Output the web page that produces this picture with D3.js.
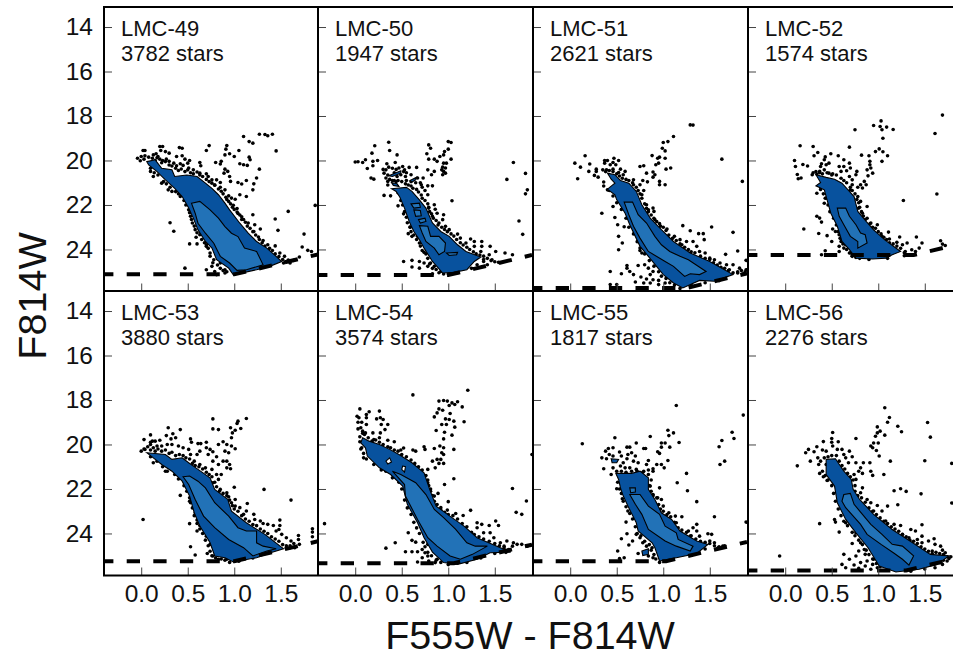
<!DOCTYPE html>
<html>
<head>
<meta charset="utf-8">
<script src="https://cdn.jsdelivr.net/npm/d3@7"></script>
<style>
  body { margin: 0; background: #fff; }
  text { font-family: "Liberation Sans", Arial, sans-serif; fill: #111; }
</style>
</head>
<body>
<div id="plot"></div>
<script>
const panelNames = ['LMC-49', 'LMC-50', 'LMC-51', 'LMC-52', 'LMC-53', 'LMC-54', 'LMC-55', 'LMC-56'];
const starCounts = [3782, 1947, 2621, 1574, 3880, 3574, 1817, 2276];
// completeness limit: magnitude of the flat part, colour where it starts to slope
const limitMag = [25.12, 25.15, 25.73, 24.25, 25.25, 25.34, 25.25, 25.66];
const limitColour = [1.0, 1.0, 1.25, 1.38, 1.0, 1.06, 1.03, 1.3];
const colourTicks = [0, 0.5, 1, 1.5];
const magTicks = [14, 16, 18, 20, 22, 24];

const stars49 = [[1.10,18.92],[1.27,18.82],[1.33,18.83],[1.36,18.89],[1.41,18.82],[1.16,19.15],[1.20,19.22],[1.45,19.57],[.73,19.33],[.70,19.55],[.92,19.33],[.91,19.49],[.90,19.75],[.95,19.70],[1.0,19.82],[1.05,19.55],[1.16,19.85],[1.17,19.97],[.63,20.09],[.64,20.24],[.80,20.09],[.86,20.04],[.85,20.16],[1.06,20.15],[1.10,20.19],[1.14,20.22],[1.27,20.39],[.90,20.39],[.93,20.49],[.89,20.57],[.95,20.72],[.96,20.94],[1.24,20.79],[1.13,20.9],[1.04,20.99],[1.08,21.06],[1.21,21.05],[1.20,21.32],[1.06,21.54],[1.13,21.62],[1.01,21.74],[1.87,22.02],[1.58,22.29],[1.44,22.63],[1.47,23.14],[1.75,23.31],[1.73,23.89],[1.79,24.04],[1.83,24.09],[1.70,24.34],[.31,22.8],[.35,23.18],[.52,23.75],[.59,23.45],[.60,23.75],[.70,23.79],[.47,24.84],
[.02,19.55],[.04,19.55],[.04,19.79],[-.04,19.9],[0,19.82],[-.01,20.01],[.03,19.94],[.13,19.75],[.16,19.7],[.2,19.37],[.23,19.37],[.21,19.55],[.26,19.6],[.3,19.67],[.41,19.42],[.44,19.45],[.38,19.82],[.44,19.79],[.47,19.94],[.52,20],[.5,20.12],[.18,19.82],[.2,19.94],[.23,20],[.27,19.94],[.3,20.04],[.35,20.12],[.38,20.24],[.42,20.15],[.45,20.22],[.51,20.34],[.56,20.42],[.63,20.57],[.7,20.6],[.72,20.72],[.76,20.87],[.81,20.87],[.85,20.99],[.79,21.11],[.85,21.2],[.9,21.32],[.94,21.59],[.97,21.69],[.94,21.84],[.99,22.01],[1.03,22.16],[1.04,22.38],[1.08,22.53],[1.1,22.65],[1.2,22.44],[1.15,22.81],[1.22,22.89],[1.28,23.08],[1.21,23.19],[1.26,23.44],[1.31,23.6],[1.36,23.79],[1.44,23.84],[1.49,24.16],[1.54,24.31],[1.6,24.61],[1.64,24.49],[1.53,24.61],
[.1,20.49],[.13,20.72],[.22,21.02],[.29,21.32],[.33,21.39],[.42,21.62],[.51,22.22],[.53,22.51],[.55,22.81],[.58,23.11],[.63,23.34],[.7,23.86],[.74,24.16],[.78,24.46],[.85,24.61],[.9,24.91],[.7,24.91],[.76,24.76],[.79,24.99],[.9,25.06],[.81,25.14],
[.08,19.85],[.12,19.9],[.17,19.88],[.15,20.0],[.22,20.1],[.26,20.05],[.3,20.2],[.33,20.25],[.37,20.35],[.4,20.45],[.43,20.38],[.47,20.5],[.5,20.42],[.53,20.55],[.56,20.6],[.6,20.52],[.63,20.65],[.66,20.72],[.7,20.85],[.73,20.95],[.76,21.02],[.79,21.1],[.83,21.28],[.86,21.38],[.88,21.5],[.91,21.65],[.92,21.75],[.96,21.95],[.98,22.1],[1.0,22.2],[1.03,22.32],[1.06,22.45],[1.08,22.65],[1.12,22.78],[1.14,22.95],[1.17,23.05],[1.2,23.2],[1.23,23.35],[1.27,23.55],[1.3,23.7],[1.33,23.85],[1.38,23.95],[1.41,24.05],[1.44,24.2],[1.48,24.32],[1.52,24.45],[1.55,24.55],[1.58,24.48],
[.1,20.35],[.14,20.55],[.18,20.65],[.24,20.95],[.27,21.05],[.31,21.2],[.37,21.4],[.4,21.5],[.46,21.8],[.48,22.0],[.52,22.35],[.54,22.65],[.57,22.95],[.6,23.25],[.65,23.55],[.68,23.7],[.72,23.95],[.74,24.3],[.77,24.6],[.82,24.7],[.85,24.85],[.88,24.95],[.92,25.0]];
const stars50 = [[.21,19.34],[.36,19.18],[.37,19.55],[.18,19.67],[.45,19.75],[.79,19.3],[.81,19.45],[.77,19.7],[1.0,19.15],[1.03,19.19],[1.0,19.49],[.96,19.6],[.95,19.75],[.91,19.82],[.85,19.94],[.79,19.94],[1.03,19.94],[.88,20.04],[0,20.07],[.03,20.06],[.08,20.09],[.11,19.97],[.19,20.04],[.24,20],[.19,20.24],[.13,20.36],[.34,20.15],[.43,20.09],[.95,20.12],[.98,20.12],[.94,20.3],[.97,20.34],[.93,20.42],[.95,20.49],[.97,20.57],[.94,20.64],[.78,20.42],[.82,20.64],[.85,20.49],[.66,20.31],[.58,20.31],[.51,20.27],[.47,20.34],[.53,20.42],[.33,20.42],[.31,20.57],[.17,20.79],[.2,20.84],[.33,20.79],[.35,20.94],[.45,20.72],[.49,20.64],[.54,20.72],[.6,20.64],[.67,20.79],[.73,20.79],[.71,21.09],[.78,21.14],[.83,21.14],[.75,21.35],[.78,21.54],[.31,21.57],[.38,21.59],[.49,21.54],[1.04,21.81],[.85,21.99],[.86,22.19],[.79,22.14],[.83,22.51],[.88,22.37],[.95,22.44],[.94,22.66],[.9,22.81],[.97,22.96],[1.01,23.11],[1.1,23.31],[1.13,23.49],[1.24,23.53],[1.28,23.64],[1.36,23.64],[1.19,23.71],[1.28,23.86],[1.36,23.86],[1.45,23.86],[1.35,24.09],[1.44,24.24],[1.51,24.09],[1.61,24.16],[1.69,24.24],[1.47,24.46],[1.54,24.58],[1.38,24.54],[1.31,24.69],[1.42,24.69],[.46,22.04],[.52,22.4],[.59,22.99],[.57,23.29],[.61,23.41],[.67,23.41],[.69,23.71],[.74,24.13],[.52,24.54],[.61,24.49],[.69,24.54],[.61,24.79],[.69,24.84],[.74,24.61],[.78,24.76],[.83,25.09],[.81,24.61],[.85,24.76],[.92,24.99],[1.7,20.09],[1.83,20.58],[1.63,20.85],[1.85,21.32],[1.83,21.5],[1.76,22.72],[1.8,23.32],
[.4,20.9],[.44,20.95],[.5,20.95],[.54,21.05],[.57,21.1],[.6,21.15],[.62,21.25],[.66,21.3],[.68,21.42],[.71,21.55],[.72,21.7],[.75,21.8],[.78,21.95],[.79,22.1],[.8,22.3],[.82,22.4],[.84,22.6],[.87,22.7],[.89,22.9],[.93,23.0],[.96,23.1],[.99,23.2],[1.03,23.3],[1.06,23.4],[1.09,23.55],[1.13,23.7],[1.16,23.8],[1.2,23.9],[1.23,24.0],[1.27,24.1],[1.3,24.2],[1.34,24.25],[1.38,24.3],[1.42,24.4],[1.46,24.5],[1.5,24.55],[1.38,24.45],
[.3,20.4],[.36,20.3],[.4,20.35],[.42,20.55],[.44,20.4],[.52,20.5],[.55,20.55],[.35,20.65],[.37,20.85],[.42,20.9],[.46,20.9],[.55,20.9],[.6,20.95],[.65,21.0],[.7,21.0],[.72,21.2],[.35,21.1],
[.46,21.45],[.49,21.8],[.51,22.0],[.53,22.3],[.55,22.55],[.56,22.8],[.59,23.0],[.6,23.2],[.63,23.35],[.66,23.55],[.7,23.85],[.72,24.05],[.76,24.2],[.78,24.4],[.8,24.65],[.83,24.85],[.87,24.9],[.9,25.05],[.95,25.1],[1.0,25.1],[1.1,25.05],[1.25,24.85]];
const stars51 = [[1.29,18.4],[1.32,18.41],[1.11,18.92],[1.05,19.15],[1.0,19.19],[.99,19.45],[1.02,19.57],[.88,19.78],[.96,19.85],[.94,19.9],[1.02,19.9],[.95,20.12],[.92,20.19],[1.08,20.34],[1.03,20.39],[.79,20.24],[.75,20.27],[.82,20.57],[.89,20.52],[.91,20.64],[.89,20.75],[.96,20.94],[.96,21.09],[1.02,21.09],[.83,20.96],[.78,20.9],[.68,20.87],[.16,19.79],[.05,20.12],[.11,20.3],[.21,20.16],[.2,20.49],[.08,20.82],[.28,20.39],[.28,20.49],[.26,20.67],[.3,20.75],[.37,20],[.4,20],[.37,20.12],[.47,19.9],[.52,20],[.46,20.09],[.43,20.19],[.49,20.19],[.35,20.42],[.39,20.42],[.46,20.39],[.54,20.39],[.52,20.54],[.59,20.49],[.57,20.64],[.36,20.97],[.4,21.32],[.62,21.09],[.68,21.09],[.75,21.09],[.79,21.35],[.77,21.54],[.46,22.07],[.34,22.37],[.48,22.56],[.51,22.89],[.58,22.98],[.52,23.41],[.56,23.71],[.52,24.01],[.82,21.99],[.89,22.14],[.84,22.22],[.82,22.37],[.9,22.29],[.91,22.66],[.96,22.84],[1.04,23.08],[1.21,22.93],[1.29,23.16],[1.52,22.99],[1.38,23.29],[1.43,23.29],[1.44,23.56],[1.12,23.41],[1.18,23.56],[1.25,23.64],[1.32,23.64],[1.2,23.79],[1.36,23.86],[1.39,24.09],[1.45,24.16],[1.5,24.39],[1.55,24.46],[1.67,24.22],[1.75,23.23],[1.8,24.07],[1.63,19.94],[1.85,20.94],[1.61,24.61],[1.68,24.69],[1.75,24.69],[1.82,24.84],[1.89,24.49],[1.89,24.91],[1.8,25.06],[1.86,25.09],[1.71,24.91],[.75,23.94],[.77,24.16],[.43,24.99],[.61,24.72],[.61,24.84],[.55,25.09],[.64,24.99],[.68,25.13],[.73,24.72],[.8,24.69],[.84,24.84],[.76,25.24],[.82,25.33],[.86,25.51],[.7,25.46],[.79,25.51],[.89,25.36],[.95,25.39],[.95,25.58],[1.02,25.51],[.89,24.99],[.86,25.13],[.43,25.58],[.5,25.58],
[.38,20.5],[.42,20.45],[.46,20.5],[.5,20.6],[.53,20.7],[.56,20.8],[.6,20.85],[.63,20.9],[.67,21.0],[.71,21.2],[.73,21.35],[.75,21.5],[.77,21.7],[.8,21.95],[.82,22.15],[.84,22.3],[.87,22.45],[.9,22.6],[.93,22.75],[.97,22.95],[1.0,23.0],[1.03,23.15],[1.06,23.35],[1.1,23.5],[1.14,23.6],[1.18,23.75],[1.23,23.9],[1.27,24.0],[1.3,24.1],[1.34,24.15],[1.4,24.3],[1.45,24.4],[1.5,24.45],[1.54,24.6],[1.58,24.7],[1.62,24.8],[1.66,24.85],[1.7,24.95],[1.75,25.05],[1.8,25.0],[1.84,24.95],[1.88,25.0],
[.36,21.15],[.42,21.35],[.46,21.6],[.5,21.9],[.55,22.2],[.6,22.6],[.63,23.0],[.68,23.3],[.72,23.65],[.75,24.05],[.8,24.2],[.85,24.5],[.9,24.75],[.95,25.0],[.98,25.2],[1.03,25.3],[1.07,25.5],[1.12,25.6],[1.18,25.75],[1.3,25.6],[1.45,25.5],[1.6,25.4],[1.66,25.25]];
const stars52 = [[1.69,17.96],[1.03,18.22],[.95,18.43],[1.02,18.47],[1.09,18.5],[1.04,18.62],[1.16,18.61],[.75,18.62],[1.61,18.79],[1.05,19.0],[.16,19.34],[.3,19.37],[.69,19.4],[.97,19.6],[1.01,19.48],[1.05,19.61],[.35,19.64],[.31,19.79],[1.1,19.79],[.82,19.76],[.9,19.79],[1.04,20.04],[.43,19.84],[.49,19.7],[.57,19.79],[.1,20],[.11,20.27],[.19,20.18],[.24,20.25],[.13,20.63],[.14,20.82],[.17,20.79],[.42,19.97],[.39,20.15],[.44,20.19],[.38,20.27],[.47,20.12],[.63,19.97],[.58,20.27],[.63,20.27],[.69,20.12],[.7,20.34],[.66,20.46],[.6,20.49],[.37,20.49],[.42,20.42],[.34,20.61],[.29,20.64],[.47,20.57],[.51,20.6],[.77,20.49],[.76,20.64],[.69,20.72],[.72,20.87],[.91,20.04],[.91,20.19],[.92,20.34],[.94,20.57],[.88,20.42],[.89,20.69],[.85,20.94],[.81,21.09],[.87,21.09],[.78,21.2],[.83,21.24],[.72,21.09],[.7,21.32],[.34,21.47],[.44,21.69],[.42,21.92],[.78,21.62],[.81,21.84],[.79,22.14],[.88,22.07],[.83,22.37],[.86,22.66],[.92,22.81],[.99,22.89],[.95,23.19],[1.04,23.41],[1.11,23.22],[1.12,23.53],[1.23,23.44],[1.2,23.68],[1.26,23.79],[1.41,23.44],[1.31,23.71],[1.27,21.8],[1.63,21.51],[1.47,23.71],[1.44,23.94],[1.36,24.01],[1.29,24.09],[1.4,24.09],[1.33,24.24],[1.28,24.28],[1.67,23.61],[1.69,23.76],[1.72,23.82],[.34,22.51],[.37,22.59],[.39,22.77],[.2,23.08],[.36,23.28],[.45,23.38],[.51,23.08],[.54,23.19],[.5,23.64],[.58,23.34],[.6,23.64],[.58,23.86],[.63,23.94],[.43,24.06],[.39,24.24],[.44,24.24],[.69,24.16],[.58,24.09],[.65,23.79],[.72,24.31],[.76,24.36],[.83,24.31],
[.3,20.55],[.33,20.5],[.37,20.55],[.4,20.6],[.45,20.55],[.5,20.65],[.55,20.65],[.6,20.8],[.63,20.9],[.66,21.0],[.7,21.2],[.72,21.35],[.75,21.5],[.77,21.75],[.79,21.9],[.8,22.1],[.82,22.3],[.84,22.5],[.88,22.6],[.91,22.85],[.94,23.0],[.97,23.05],[1.0,23.2],[1.03,23.3],[1.06,23.45],[1.09,23.55],[1.12,23.7],[1.16,23.75],[1.2,23.85],[1.24,23.95],[1.28,24.15],
[.38,21.3],[.41,21.5],[.43,21.7],[.46,22.0],[.48,22.3],[.52,22.6],[.55,22.9],[.57,23.2],[.59,23.5],[.62,23.75],[.66,24.0],[.7,24.15],[.73,24.25],[.77,24.3],[.8,24.4],[.9,24.45],[1.1,24.4]];
const stars53 = [[.77,18.85],[1.13,18.83],[1.04,18.95],[1.03,19.06],[.77,19.3],[.83,19.33],[.96,19.25],[1.07,19.28],[1.01,19.36],[.98,19.48],[.29,19.25],[.1,19.57],[.27,19.6],[.34,19.52],[.42,19.33],[.37,19.7],[.32,19.75],[.53,19.75],[.54,19.9],[.03,19.78],[.12,19.85],[.1,19.9],[.15,19.85],[.2,19.81],[.97,19.7],[.83,20],[.88,19.88],[.92,20],[.97,20.07],[1.01,20.19],[.9,20.3],[.94,20.37],[.7,19.9],[.61,19.96],[.64,19.96],[.7,20.15],[.74,20.22],[.77,20.33],[.81,20.55],[.77,20.75],[.72,20.45],[.63,20.3],[.6,20.45],[0,20.3],[.1,20],[.04,20.22],[.13,20.15],[.17,20.07],[.22,20.07],[.28,20],[.33,20],[.4,20.07],[.45,20.15],[.51,20.22],[.53,20.45],[.57,20.75],[.63,20.9],[.69,21.05],[.76,21.12],[.83,20.9],[.88,20.75],[.92,20.75],[.95,20.9],[.92,21.05],[.96,21.09],[.81,21.35],[.86,21.35],[.83,21.57],[.77,21.72],[1,21.92],[1.32,22.02],[1.61,22.5],[.85,22.02],[.92,22.17],[.94,22.35],[1.01,22.47],[.97,22.62],[1.01,22.77],[1.06,22.84],[1.14,22.65],[1.13,22.99],[1.1,23.14],[1.21,23.14],[1.22,23.37],[1.28,23.44],[1.31,23.55],[1.36,23.59],[1.42,23.64],[1.49,23.4],[1.49,23.64],[1.48,23.82],[1.45,23.89],[1.51,24.04],[1.56,24.19],[1.61,24.34],[1.69,24.09],[1.69,24.27],[1.7,24.49],[1.65,24.64],[1.6,24.64],[1.84,23.79],[1.84,23.94],[1.84,24.15],[.13,20.82],[.26,21.2],[.42,22.29],[.52,22.4],[.53,22.62],[.58,23.07],[.61,23.14],[.02,23.37],[.52,23.56],[.6,23.4],[.63,23.64],[.6,23.89],[.67,23.74],[.7,24.12],[.76,24.19],[.79,24.34],[.53,24.6],[.58,24.97],[.74,24.49],[.71,24.9],[.79,24.64],[.77,25.01],[.83,25.16],[.92,25.16],
[.03,20.2],[.07,20.1],[.1,20.25],[.15,20.3],[.18,20.2],[.22,20.3],[.26,20.25],[.3,20.4],[.33,20.35],[.37,20.5],[.41,20.45],[.45,20.5],[.48,20.6],[.52,20.65],[.55,20.85],[.58,20.95],[.62,21.0],[.66,21.1],[.7,21.25],[.73,21.35],[.76,21.45],[.79,21.7],[.81,21.9],[.84,22.1],[.88,22.2],[.92,22.3],[.95,22.5],[.98,22.75],[1.0,22.9],[1.04,23.0],[1.08,23.2],[1.12,23.35],[1.16,23.45],[1.2,23.6],[1.24,23.65],[1.28,23.8],[1.32,23.9],[1.36,24.0],[1.4,24.15],[1.44,24.25],[1.48,24.35],[1.52,24.5],[1.56,24.55],[1.6,24.55],[1.64,24.45],[1.56,24.65],
[.1,20.55],[.17,20.75],[.23,21.0],[.28,21.2],[.36,21.35],[.4,21.55],[.46,21.85],[.49,22.1],[.52,22.55],[.55,22.85],[.57,23.2],[.6,23.55],[.63,23.8],[.66,24.0],[.69,24.3],[.72,24.55],[.74,24.8],[.76,25.0],[.8,25.1],[.86,25.15],[.9,25.2],[.95,25.3],[1.05,25.25],[1.2,25.1]];
const stars54 = [[.62,17.77],[1.21,17.56],[.95,18.02],[.9,18.05],[.99,18.05],[1.04,18.13],[1.1,18.08],[1.01,18.25],[1.15,18.31],[1.07,18.2],[.9,18.4],[.94,18.46],[.88,18.58],[.85,18.76],[1.02,18.61],[.97,18.85],[1.01,18.88],[1.06,18.95],[1.17,18.98],[.93,19.1],[.98,19.1],[1.07,19.22],[.87,19.37],[.96,19.45],[1.04,19.58],[.95,19.75],[.91,20.07],[.95,20.15],[1.06,20.22],[.85,20.18],[.93,20.37],[.95,20.45],[.88,20.67],[.83,20.75],[.92,20.67],[.9,20.85],[.95,20.85],[.86,21.05],[.78,21.12],[.75,20.22],[.74,20.1],[.65,20.3],[.62,20.25],[.52,20.16],[.49,20.25],[.42,19.88],[.35,19.81],[.05,18.4],[.02,18.73],[.04,18.8],[.15,18.53],[.12,18.65],[.03,19],[.07,19],[.12,18.8],[.26,18.5],[.27,18.8],[.23,18.85],[.3,18.88],[.12,19.1],[.28,19.1],[.35,19.1],[.32,19.33],[.03,19.3],[.06,19.25],[.08,19.4],[.11,19.48],[.27,19.48],[.19,19.48],[.26,19.7],[.05,19.88],[.07,20.15],[.09,20.6],[.2,19.78],[1.06,21.54],[.96,21.8],[.89,22.2],[.85,22.32],[.81,22.1],[.78,21.72],[1,22.57],[.92,22.84],[.99,22.95],[1.08,23.1],[1.16,23.19],[1.24,22.96],[1.31,23.52],[1.36,23.59],[1.31,23.74],[1.44,23.64],[1.51,23.44],[1.54,23.64],[1.38,23.97],[1.45,23.97],[1.49,24.19],[1.56,24.42],[1.63,24.34],[1.7,24.42],[1.74,24.49],[1.79,24.49],[1.85,24.57],[1.88,24.54],[1.69,24.57],[1.65,24.72],[1.6,24.57],[1.69,21.98],[1.84,22.54],[1.73,23.05],[1.79,23.14],[1.9,20.45],[-.33,23.56],[.57,23.97],[.43,24.42],[.33,24.66],[.61,24.31],[.65,24.39],[.54,24.82],[.61,24.82],[.67,24.82],[.72,24.72],[.75,24.87],[.67,25.28],[.72,25.09],[.78,25.01],[.79,25.24],[.86,25.31],[.88,25.16],[.78,24.49],
[.05,19.65],[.08,19.5],[.1,19.55],[.14,19.7],[.18,19.85],[.22,19.8],[.26,19.9],[.3,20.0],[.35,20.1],[.38,20.15],[.42,20.25],[.46,20.3],[.5,20.45],[.55,20.55],[.6,20.7],[.64,20.85],[.68,21.0],[.72,21.15],[.76,21.4],[.78,21.6],[.79,21.85],[.81,22.0],[.83,22.3],[.85,22.55],[.88,22.7],[.92,22.95],[.96,23.05],[1.0,23.15],[1.05,23.2],[1.1,23.35],[1.15,23.55],[1.2,23.7],[1.25,23.95],[1.28,24.05],[1.33,24.15],[1.38,24.25],[1.44,24.35],[1.5,24.45],[1.55,24.55],[1.6,24.65],[1.66,24.75],
[.06,20.2],[.09,20.4],[.12,20.65],[.2,20.9],[.28,21.15],[.33,21.2],[.4,21.5],[.47,21.7],[.5,22.0],[.53,22.5],[.56,22.85],[.6,23.15],[.63,23.5],[.66,23.75],[.69,24.0],[.73,24.4],[.75,24.6],[.78,24.85],[.82,25.0],[.87,25.2],[.92,25.3],[1.0,25.4],[1.2,25.3],[1.35,25.1],[1.5,24.9],[1.62,24.85]];
const stars55 = [[1.14,18.25],[1.86,18.68],[1.05,19.36],[1.11,19.48],[1.06,19.6],[.48,19.7],[.86,19.64],[1.74,19.45],[1.76,19.73],[1.63,19.82],[.13,19.97],[1.17,19.91],[1.6,20.1],[1.66,20.75],[1.61,20.9],[.98,19.93],[1.02,19.93],[.98,20.12],[1.07,20.12],[.94,20.33],[.96,20.4],[.79,20.18],[.81,20.18],[.71,19.93],[.61,20.12],[.64,20.12],[.46,20.15],[.41,20.18],[.38,20.3],[.53,20.34],[.42,20.45],[.34,20.6],[.39,20.64],[.46,20.52],[.55,20.52],[.62,20.45],[.66,20.37],[.7,20.52],[.61,20.64],[.68,20.75],[.73,20.82],[.84,20.72],[.82,20.9],[.89,21.09],[.93,20.9],[1.05,20.72],[.98,20.9],[1.01,21.05],[.36,21.09],[.44,21.35],[.46,21.05],[.54,20.97],[.57,20.82],[.59,21.05],[.64,21.05],[.71,21.12],[.79,21.2],[.84,21.15],[.89,21.2],[1.25,21.3],[1.15,21.72],[1.26,22.08],[1.36,22.57],[.96,21.95],[.86,21.87],[.89,22.25],[.94,22.4],[.98,22.47],[.91,22.62],[1,22.77],[1.06,23.07],[1.13,23.22],[1.2,23.25],[1.55,23.25],[1.05,23.44],[1.14,23.52],[1.36,23.59],[1.32,23.74],[1.27,23.89],[1.36,23.89],[1.39,24.12],[1.29,24.12],[1.48,24.01],[1.52,24.04],[1.5,24.34],[1.55,24.42],[1.64,24.57],[1.59,24.64],[1.89,23.49],[.5,21.99],[.56,22.44],[.62,22.99],[.6,23.49],[.61,24.01],[.55,24.24],[.63,24.52],[.67,24.34],[.71,24.04],[.75,24.19],[.78,24.42],[.51,24.79],[.53,25.13],[.58,25.09],[.73,24.9],[.79,24.87],[.82,24.57],[.84,25.01],[.88,24.64],[.89,25.09],
[.5,21.2],[.55,21.2],[.6,21.25],[.66,21.2],[.72,21.2],[.78,21.25],[.84,21.35],[.87,21.6],[.85,21.85],[.87,22.1],[.89,22.3],[.93,22.4],[.95,22.7],[.97,22.9],[1.0,23.0],[1.04,23.15],[1.08,23.25],[1.12,23.5],[1.16,23.75],[1.2,23.85],[1.25,23.95],[1.3,24.1],[1.35,24.25],[1.4,24.35],[1.45,24.4],[1.5,24.45],[1.55,24.55],[1.6,24.6],[1.66,24.55],
[.51,21.7],[.53,22.0],[.55,22.2],[.57,22.55],[.6,22.8],[.64,23.1],[.67,23.35],[.7,23.7],[.72,24.0],[.76,24.1],[.8,24.35],[.85,24.5],[.87,24.75],[.9,24.95],[.92,25.15],[.96,25.3],[1.1,25.15],[1.3,24.95],[1.45,24.7]];
const stars56 = [[1.07,18.35],[1.12,18.79],[1.1,19],[1.53,19.01],[1.21,19.18],[1.25,19.43],[.99,19.21],[1.02,19.4],[.99,19.48],[.97,19.63],[1.07,19.58],[1.56,19.67],[.76,19.73],[.51,19.46],[.5,19.73],[.5,19.9],[.57,19.88],[.41,19.87],[.34,20.1],[.25,20.22],[.22,20.37],[.31,20.33],[.4,20.25],[.44,20.3],[.51,20.07],[.56,20.22],[.61,20.22],[.69,20.3],[.63,20.45],[.72,20.55],[.92,20.07],[.95,19.93],[1,19.93],[.94,20.15],[.98,20.27],[1.01,20.52],[1.13,20.75],[1.5,20.73],[1.79,20.85],[.13,20.96],[.27,20.75],[.35,20.6],[.38,20.75],[.36,20.9],[.44,20.9],[.37,21.3],[.41,21.45],[.45,21.62],[.65,20.6],[.68,20.82],[.76,20.82],[.84,20.82],[.91,20.82],[.81,21.05],[.79,21.2],[.92,21.2],[.94,21.39],[.83,21.3],[.74,21.35],[.76,21.57],[1.06,21.35],[.83,21.95],[.81,22.17],[.88,22.47],[.92,22.62],[.99,22.74],[1.1,22.77],[1.04,22.99],[.95,22.99],[1.17,22.08],[1.24,21.99],[1.3,22.11],[1.46,22.22],[1.21,22.71],[1.79,22.63],[1.08,23.44],[1.17,23.59],[1.24,23.64],[1.15,23.89],[1.47,23.61],[1.35,23.82],[1.4,23.89],[1.26,24.04],[1.33,24.19],[1.47,24.12],[1.42,24.27],[1.6,24.24],[1.54,24.34],[1.47,24.42],[1.67,24.57],[1.61,24.49],[1.58,24.79],[1.69,24.75],[1.72,24.87],[1.76,25.13],[1.74,25.24],[1.69,25.39],[1.61,25.54],[.37,23.56],[.53,23.37],[.54,23.49],[.58,23.94],[.65,23.52],[.72,24.45],[.76,23.97],[.81,24.42],[.79,24.79],[.85,24.72],[.86,24.94],[.63,24.94],[.69,25.16],[.76,25.01],[-.06,25.01],[.61,25.39],[.65,25.54],[.74,25.42],[.81,25.31],[.88,25.24],[.95,25.16],[.94,25.39],[.86,25.46],[.79,25.57],[.92,25.61],[.99,25.54],[1.2,25.61],[1.29,25.64],
[.42,20.6],[.46,20.55],[.5,20.5],[.55,20.5],[.58,20.75],[.61,20.95],[.64,21.1],[.67,21.3],[.7,21.45],[.73,21.6],[.75,21.85],[.75,22.1],[.78,22.3],[.82,22.4],[.86,22.6],[.9,22.85],[.94,23.0],[.98,23.15],[1.02,23.3],[1.06,23.45],[1.1,23.55],[1.14,23.7],[1.18,23.8],[1.22,23.9],[1.26,24.05],[1.3,24.15],[1.34,24.3],[1.38,24.35],[1.42,24.45],[1.46,24.6],[1.5,24.7],[1.54,24.8],[1.58,24.9],[1.62,24.85],[1.66,24.9],[1.7,24.95],[1.74,25.05],[1.78,25.05],[1.7,25.2],[1.66,25.3],[1.6,25.4],
[.4,21.2],[.43,21.4],[.46,21.6],[.5,21.85],[.52,22.2],[.54,22.55],[.57,22.9],[.6,23.2],[.63,23.45],[.67,23.65],[.72,23.95],[.75,24.1],[.79,24.3],[.83,24.5],[.87,24.75],[.9,24.95],[.94,25.15],[.98,25.35],[1.02,25.5],[1.1,25.65],[1.35,25.7],[1.5,25.6]];

const outer49 = [[[.06,20.05],[.15,19.97],[.22,20.35],[.33,20.42],[.36,20.72],[.49,20.65],[.60,20.72],[.67,20.95],[.76,21.25],[.83,21.54],[.90,21.92],[.95,22.22],[1.06,22.82],[1.15,23.27],[1.24,23.64],[1.35,23.94],[1.45,24.31],[1.51,24.54],[1.38,24.76],[1.24,24.91],[.99,25.14],[.94,24.84],[.81,24.46],[.76,23.94],[.69,23.64],[.61,23.12],[.56,22.59],[.51,22.14],[.44,21.62],[.36,21.25],[.26,20.87],[.17,20.50],[.08,20.2]]];
const inner49 = [[[.54,21.92],[.63,21.84],[.74,22.22],[.83,22.59],[.90,22.97],[.97,23.27],[1.04,23.42],[1.11,23.94],[1.24,24.09],[1.31,24.69],[1.13,24.91],[1.03,24.94],[.95,24.61],[.85,24.31],[.78,23.72],[.69,23.27],[.61,22.82],[.58,22.37]]];
const outer50 = [[[.39,21.27],[.55,21.21],[.61,21.39],[.69,21.77],[.76,22.14],[.83,22.81],[.92,23.19],[1.01,23.41],[1.10,23.79],[1.19,24.09],[1.35,24.34],[1.28,24.54],[1.20,24.91],[1.06,25.03],[.94,25.06],[.83,24.54],[.74,23.94],[.69,23.56],[.63,23.19],[.58,22.74],[.53,22.14],[.48,21.65],[.44,21.39]],
  [[.36,20.69],[.49,20.46],[.49,20.57],[.40,20.72]],[[.39,20.99],[.45,21.05],[.47,21.17],[.41,21.12]],[[.59,20.9],[.66,20.75],[.65,20.87],[.61,20.97]]];
const inner50 = [[[.60,21.95],[.69,21.92],[.70,22.1],[.63,22.14]],[[.63,22.22],[.70,22.25],[.71,22.49],[.65,22.51]],[[.68,22.66],[.75,22.59],[.76,22.74],[.70,22.81]],[[.69,22.93],[.78,22.96],[.81,23.41],[.90,23.41],[.97,23.71],[.96,24.09],[.90,24.24],[.85,23.94],[.76,23.64],[.72,23.26]],[[.98,24.16],[1.1,24.13],[1.09,24.24],[1.01,24.27]]];
const outer51 = [[[.40,20.57],[.48,20.64],[.54,20.9],[.63,21.02],[.71,21.39],[.77,21.99],[.86,22.59],[.98,23.11],[1.11,23.64],[1.29,24.16],[1.5,24.54],[1.75,25.13],[1.55,25.43],[1.39,25.39],[1.21,25.73],[1.11,25.51],[1.0,25.13],[.84,24.31],[.75,23.86],[.64,22.89],[.59,22.37],[.5,21.77],[.48,21.54],[.4,21.29],[.48,21.02],[.44,20.84]]];
const inner51 = [[[.58,21.87],[.67,21.87],[.73,22.44],[.82,22.81],[.91,23.41],[.98,23.79],[1.07,24.09],[1.18,24.31],[1.27,24.46],[1.46,24.99],[1.39,25.13],[1.29,25.09],[1.23,25.21],[1.11,24.76],[1.02,24.54],[.84,24.09],[.75,23.49],[.68,22.96],[.63,22.44]]];
const outer52 = [[[.33,20.64],[.44,20.76],[.53,20.84],[.61,21.02],[.69,21.39],[.74,21.62],[.78,22.29],[.87,22.74],[.95,23.12],[1.07,23.57],[1.24,24.09],[1.15,24.24],[1.08,24.39],[.94,24.43],[.76,24.39],[.69,24.01],[.61,23.64],[.56,22.96],[.49,22.37],[.45,21.77],[.42,21.32],[.33,21.14],[.38,20.99]]];
const inner52 = [[[.56,22.14],[.65,22.14],[.69,22.51],[.76,22.89],[.81,23.26],[.86,23.34],[.88,23.71],[.78,23.94],[.78,23.64],[.7,23.41],[.63,22.89],[.58,22.51]]];
const outer53 = [[[.06,20.37],[.26,20.45],[.33,20.67],[.44,20.6],[.51,20.82],[.61,21.12],[.74,21.5],[.79,22.02],[.93,22.47],[.97,23.0],[1.13,23.52],[1.33,24.04],[1.53,24.69],[1.39,24.87],[1.24,25.09],[.99,25.28],[.9,25.09],[.79,25.01],[.74,24.42],[.63,23.67],[.57,23.07],[.52,22.32],[.44,21.65],[.33,21.2],[.22,20.9],[.13,20.6]]];
const inner53 = [[[.45,21.45],[.52,21.42],[.61,21.65],[.69,21.95],[.79,22.62],[.94,23.22],[1.04,23.74],[1.13,23.89],[1.24,23.89],[1.24,24.42],[1.31,24.57],[1.45,24.69],[1.35,24.79],[1.2,25.01],[1.1,24.64],[.94,24.27],[.79,23.74],[.67,23.22],[.58,22.47],[.51,21.8]]];
const outer54 = [[[.08,19.7],[.15,19.85],[.26,20.0],[.37,20.22],[.47,20.45],[.61,20.82],[.74,21.27],[.8,22.02],[.87,22.77],[1.04,23.29],[1.17,23.67],[1.31,24.19],[1.67,24.84],[1.45,24.87],[1.31,25.16],[1.1,25.39],[.95,25.31],[.83,24.84],[.74,24.19],[.67,23.52],[.56,22.69],[.51,21.87],[.38,21.35],[.26,21.05],[.13,20.52],[.11,20.15],[.06,19.93]]];
const inner54 = [[[.4,21.2],[.49,21.35],[.65,21.72],[.76,22.25],[.85,22.92],[.95,23.29],[1.08,23.82],[1.2,24.42],[1.29,24.57],[1.42,24.57],[1.26,24.94],[1.13,25.16],[1.02,25.01],[.88,24.57],[.78,24.19],[.67,23.37],[.54,22.32],[.53,21.8]]];
const holes54 = [[[.33,20.75],[.37,20.6],[.39,20.79],[.35,20.88]],[[.51,20.97],[.54,21.0],[.53,21.24],[.5,21.12]]];
const outer55 = [[[.49,21.3],[.66,21.3],[.75,21.2],[.84,21.5],[.84,22.02],[.91,22.47],[.98,23.07],[1.09,23.37],[1.18,23.89],[1.36,24.34],[1.48,24.49],[1.36,24.9],[1.14,25.09],[.96,25.24],[.91,24.64],[.88,24.42],[.73,23.89],[.71,23.52],[.62,22.77],[.57,22.32],[.54,21.95],[.52,21.57]],
  [[.44,20.64],[.52,20.67],[.5,20.82],[.45,20.82]],[[.77,24.79],[.84,24.69],[.84,24.94],[.78,24.99]]];
const inner55 = [[[.64,22.25],[.75,22.25],[.84,22.77],[.96,23.14],[1.02,23.67],[1.14,23.97],[1.16,24.27],[1.32,24.57],[1.29,24.79],[1.14,24.57],[1.02,24.34],[.84,23.82],[.77,23.14],[.7,22.69]],[[.64,21.95],[.7,21.95],[.7,22.14],[.65,22.17]]];
const outer56 = [[[.44,20.67],[.54,20.64],[.63,21.2],[.71,21.57],[.73,22.02],[.8,22.47],[.95,23.14],[1.15,23.82],[1.37,24.42],[1.56,24.94],[1.76,25.01],[1.63,25.39],[1.44,25.61],[1.19,25.73],[1.01,25.46],[.89,24.64],[.76,23.97],[.65,23.37],[.56,22.62],[.53,21.87],[.44,21.35]]];
const inner56 = [[[.63,22.25],[.7,22.2],[.74,22.69],[.83,23.14],[.92,23.59],[1.04,24.04],[1.15,24.49],[1.26,24.57],[1.38,25.01],[1.33,25.42],[1.26,25.16],[1.17,24.89],[1.03,24.49],[.88,24.04],[.81,23.59],[.65,22.84],[.61,22.55]]];

const allStars = [stars49, stars50, stars51, stars52, stars53, stars54, stars55, stars56];
const allOuter = [outer49, outer50, outer51, outer52, outer53, outer54, outer55, outer56];
const allInner = [inner49, inner50, inner51, inner52, inner53, inner54, inner55, inner56];
const allHoles = [[], [], [], [], [], holes54, [], []];

const width = 953, height = 657;
const panelLeft = [104, 318, 533, 748];
const panelTop = [7, 291];
const panelW = 214, panelH = 284.5;

const svg = d3.select('#plot').append('svg')
    .attr('width', width)
    .attr('height', height)
    .style('display', 'block');

const contourLine = (x, y) => d3.line().x(d => x(d[0])).y(d => y(d[1]));

panelNames.forEach((name, i) => {
    let col = i % 4, row = Math.floor(i / 4);
    let left = panelLeft[col], top = panelTop[row];
    let x = d3.scaleLinear().domain([-0.4, 1.9]).range([left, left + panelW]);
    let y = d3.scaleLinear().domain([13.1, 25.89]).range([top, top + panelH]);
    let line = contourLine(x, y);

    svg.append('clipPath').attr('id', 'clip' + i)
        .append('rect')
        .attr('x', left).attr('y', top)
        .attr('width', panelW).attr('height', panelH);

    let g = svg.append('g').attr('clip-path', 'url(#clip' + i + ')');

    g.selectAll('circle.star').data(allStars[i]).join('circle')
        .attr('class', 'star')
        .attr('cx', d => x(d[0]))
        .attr('cy', d => y(d[1]))
        .attr('r', 1.8)
        .attr('fill', '#000');

    g.selectAll('path.outer').data(allOuter[i]).join('path')
        .attr('class', 'outer')
        .attr('d', d => line(d) + 'Z')
        .attr('fill', '#08529e')
        .attr('stroke', '#000')
        .attr('stroke-width', 1.1);

    g.selectAll('path.hole').data(allHoles[i]).join('path')
        .attr('class', 'hole')
        .attr('d', d => line(d) + 'Z')
        .attr('fill', '#fff')
        .attr('stroke', '#000')
        .attr('stroke-width', 1.1);

    g.selectAll('path.inner').data(allInner[i]).join('path')
        .attr('class', 'inner')
        .attr('d', d => line(d) + 'Z')
        .attr('fill', '#2272b7')
        .attr('stroke', '#000')
        .attr('stroke-width', 1.1);

    // completeness limit, flat then sloping with the F555W limit
    g.append('path')
        .attr('d', line([[-0.4, limitMag[i]], [limitColour[i], limitMag[i]],
                         [1.9, limitMag[i] - (1.9 - limitColour[i])]]))
        .attr('fill', 'none')
        .attr('stroke', '#000')
        .attr('stroke-width', 4)
        .attr('stroke-dasharray', '13.3 13.3')
        .attr('stroke-dashoffset', 3.9);

    // axes, ticks point into the panel
    let yAxis = d3.axisLeft(y).tickValues(magTicks).tickSize(-8).tickPadding(11)
        .tickFormat(col === 0 ? d3.format('d') : '');
    let yG = svg.append('g').attr('transform', 'translate(' + left + ',0)').call(yAxis);
    let xAxis = d3.axisBottom(x).tickValues(colourTicks).tickSize(-8).tickPadding(9)
        .tickFormat(row === 1 ? d3.format('.1f') : '');
    let xG = svg.append('g').attr('transform', 'translate(0,' + (top + panelH) + ')').call(xAxis);
    [yG, xG].forEach(a => {
        a.select('.domain').remove();
        a.selectAll('.tick line').attr('stroke', '#444');
        a.selectAll('text').attr('font-size', 24.5).style('font-family', '"Liberation Sans", Arial, sans-serif').attr('fill', '#111');
    });

    svg.append('path')
        .attr('d', 'M' + left + ',' + top + 'V' + (top + panelH))
        .attr('stroke', '#000').attr('stroke-width', 2);

    svg.append('text').attr('x', left + 17).attr('y', top + 29)
        .attr('font-size', 22).text(name);
    svg.append('text').attr('x', left + 17).attr('y', top + 53.5)
        .attr('font-size', 22).text(starCounts[i] + ' stars');
});

// horizontal frame lines run across the whole figure
[7, 291, 575.5].forEach(v => {
    svg.append('line').attr('x1', 103).attr('x2', width).attr('y1', v).attr('y2', v)
        .attr('stroke', '#000').attr('stroke-width', 2);
});

svg.append('text')
    .attr('x', 530).attr('y', 649)
    .attr('text-anchor', 'middle')
    .attr('font-size', 39.5)
    .text('F555W - F814W');

svg.append('text')
    .attr('transform', 'translate(46,296) rotate(-90)')
    .attr('text-anchor', 'middle')
    .attr('font-size', 39.5)
    .text('F814W');
</script>
</body>
</html>
